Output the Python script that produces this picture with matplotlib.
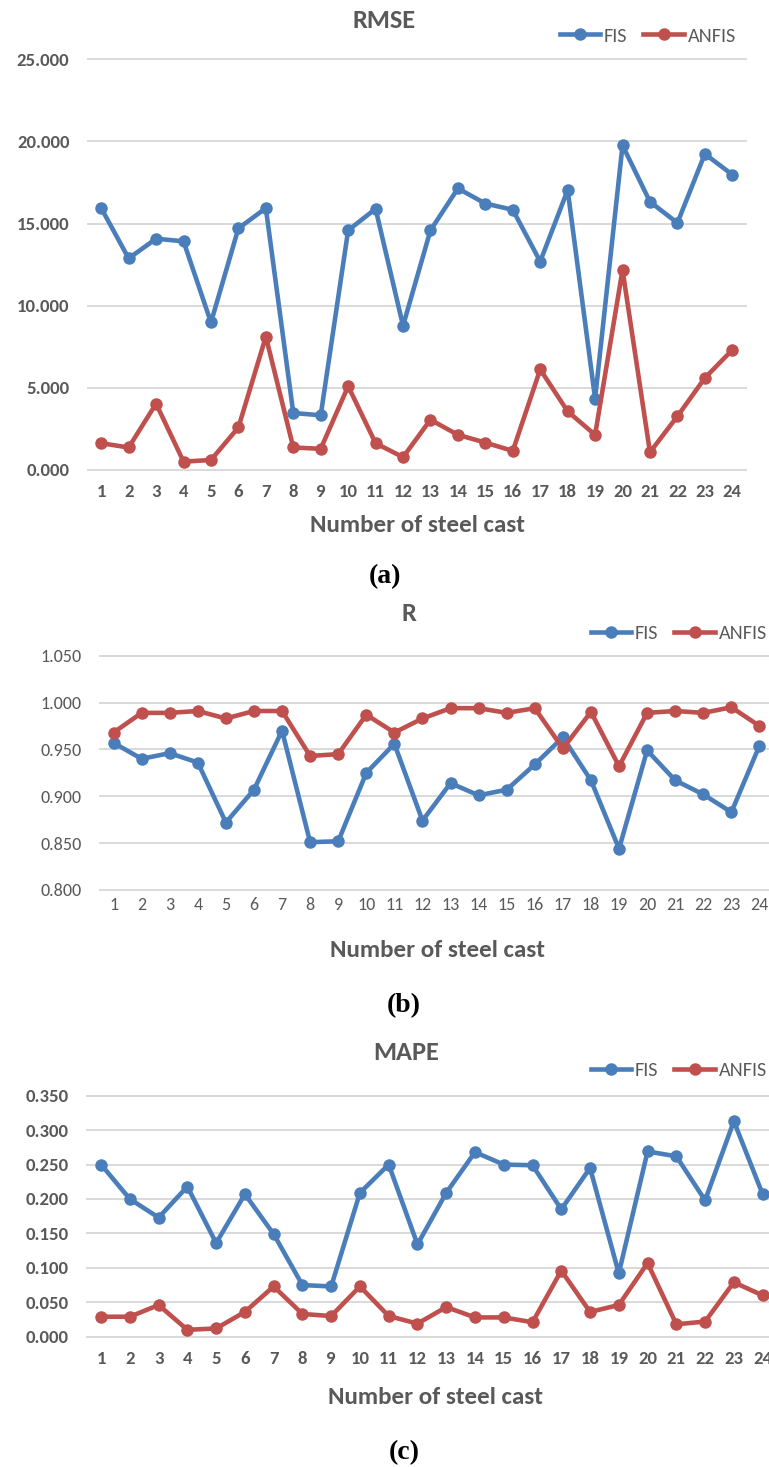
import matplotlib
matplotlib.use("Agg")
import matplotlib.pyplot as plt
from matplotlib import font_manager

# pick a Calibri-like sans face if one is around
installed = {f.name for f in font_manager.fontManager.ttflist}
sans = next(n for n in ["Carlito", "Lato", "Open Sans", "DejaVu Sans"] if n in installed)
plt.rcParams["font.family"] = [sans, "DejaVu Sans"]

casts = list(range(1, 25))

rmse_fis = [15.94, 12.88, 14.08, 13.92, 8.98, 14.71, 15.94, 3.47, 3.33, 14.59, 15.90, 8.78,
            14.59, 17.14, 16.22, 15.84, 12.69, 17.04, 4.35, 19.76, 16.33, 15.04, 19.24, 17.98]
rmse_anfis = [1.63, 1.37, 4.04, 0.51, 0.61, 2.59, 8.12, 1.37, 1.29, 5.10, 1.63, 0.78,
              3.06, 2.14, 1.67, 1.16, 6.12, 3.57, 2.14, 12.18, 1.08, 3.27, 5.60, 7.31]

r_fis = [0.957, 0.940, 0.946, 0.936, 0.872, 0.907, 0.970, 0.851, 0.852, 0.925, 0.956, 0.874,
         0.914, 0.901, 0.907, 0.934, 0.963, 0.917, 0.844, 0.949, 0.917, 0.902, 0.883, 0.954]
r_anfis = [0.968, 0.989, 0.989, 0.991, 0.983, 0.991, 0.991, 0.943, 0.945, 0.987, 0.968, 0.983,
           0.994, 0.994, 0.989, 0.994, 0.951, 0.990, 0.932, 0.989, 0.991, 0.989, 0.995, 0.975]

mape_fis = [0.250, 0.200, 0.173, 0.218, 0.136, 0.207, 0.149, 0.075, 0.073, 0.209, 0.250, 0.134,
            0.209, 0.268, 0.250, 0.249, 0.185, 0.245, 0.092, 0.269, 0.262, 0.198, 0.313, 0.207]
mape_anfis = [0.029, 0.029, 0.046, 0.010, 0.012, 0.036, 0.073, 0.033, 0.030, 0.073, 0.030, 0.019,
              0.043, 0.028, 0.028, 0.021, 0.096, 0.036, 0.046, 0.107, 0.018, 0.022, 0.079, 0.060]

BLUE = "#4a7ebb"
RED = "#c0504d"
GREY = "#595959"
GRID = "#d9d9d9"

W, H = 769, 1467
fig = plt.figure(figsize=(W / 100, H / 100), dpi=100)


def fx(x):
    return x / W


def fy(y):
    return 1 - y / H


def panel(left, right, top, bottom, fis, anfis, ylim, step, title, title_xy,
          leg_right, leg_y, tick_weight, tick_size, tick_pad, xlab_xy, tag, tag_xy):
    ax = fig.add_axes([fx(left), fy(bottom), fx(right - left), (bottom - top) / H])
    ax.plot(casts, fis, color=BLUE, lw=3.3, marker="o", ms=9, mew=0, label="FIS")
    ax.plot(casts, anfis, color=RED, lw=3.3, marker="o", ms=9, mew=0, label="ANFIS")
    ax.set_xlim(0.5, 24.5)
    ax.set_ylim(*ylim)
    n = int(round((ylim[1] - ylim[0]) / step))
    ax.set_yticks([ylim[0] + i * step for i in range(n + 1)])
    ax.yaxis.set_major_formatter(matplotlib.ticker.FormatStrFormatter("%.3f"))
    ax.set_xticks(casts)
    ax.grid(axis="y", color=GRID, lw=1.4)
    ax.set_axisbelow(True)
    for s in ax.spines.values():
        s.set_visible(False)
    ax.tick_params(length=0, colors=GREY, labelsize=tick_size)
    ax.tick_params(axis="y", pad=13)
    ax.tick_params(axis="x", pad=tick_pad)
    for lab in ax.get_xticklabels() + ax.get_yticklabels():
        lab.set_fontweight(tick_weight)
    for line in ax.get_ygridlines():
        line.set_clip_on(False)

    fig.text(fx(title_xy[0]), fy(title_xy[1]), title, ha="center", va="center",
             fontsize=19, fontweight="bold", color=GREY)
    ax.legend(loc="center right", bbox_to_anchor=(fx(leg_right), fy(leg_y)),
              bbox_transform=fig.transFigure, ncol=2, frameon=False,
              fontsize=14.5, labelcolor=GREY, handlelength=2.0, handletextpad=0.2,
              columnspacing=0.8, borderpad=0, borderaxespad=0)
    fig.text(fx(xlab_xy[0]), fy(xlab_xy[1]), "Number of steel cast", ha="center",
             va="center", fontsize=18, color=GREY, fontweight="semibold")
    fig.text(fx(tag_xy[0]), fy(tag_xy[1]), tag, ha="center", va="center", fontsize=20,
             fontweight="bold", family=["Liberation Serif", "DejaVu Serif"], color="black")
    return ax


panel(87.5, 746, 59.3, 470, rmse_fis, rmse_anfis, (0, 25), 5, "RMSE", (384, 20),
      736, 36, "bold", 13.5, 10, (417, 525), "(a)", (385, 577))
panel(99.5, 773.5, 655.7, 890, r_fis, r_anfis, (0.8, 1.05), 0.05, "R", (409, 613),
      767, 633, "normal", 13, 5, (437, 950), "(b)", (404, 1006))
panel(86.7, 777, 1095.7, 1336.7, mape_fis, mape_anfis, (0, 0.35), 0.05, "MAPE", (406, 1052),
      767, 1070, "semibold", 13.5, 10, (435, 1398), "(c)", (404, 1453))

fig.savefig("out.png", dpi=100)
